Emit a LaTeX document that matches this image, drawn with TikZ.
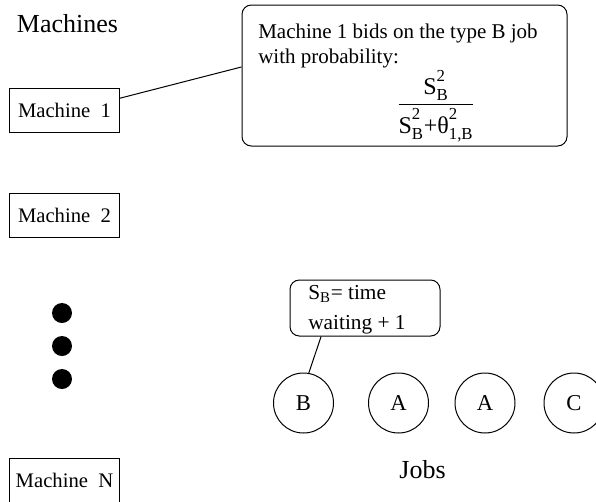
\documentclass[tikz,border=0pt]{standalone}
\usepackage{amsmath}
\usepackage{fontspec}
\setmainfont{Liberation Serif}
\usepackage{tikz}

\newcommand{\tx}[1]{\text{#1}}
\newcommand{\sq}{\tx{\raisebox{3pt}{2}}}

\tikzset{
  machine/.style={draw, line width=0.75, minimum width=82pt, minimum height=33pt, inner sep=0pt, font=\fontsize{15.5}{18}\selectfont},
  callout/.style={draw, line width=0.75, rounded corners=7pt, inner sep=0pt},
  job/.style={draw, circle, line width=0.75, minimum size=45pt, inner sep=0pt, font=\fontsize{17}{20}\selectfont},
  dot/.style={fill, circle, minimum size=15pt, inner sep=0pt},
  heading/.style={inner sep=0pt, font=\fontsize{19.5}{22}\selectfont},
  boxtext/.style={inner sep=0pt, align=left, font=\fontsize{15.75}{18.75}\selectfont}
}

\begin{document}
\begin{tikzpicture}[x=0.75pt,y=0.75pt,yscale=-1,xscale=1]
        \useasboundingbox (0,0) rectangle (596,501);

        % Text Node
        \node[heading, anchor=base] (machines) at (67.5,32) {Machines};
        \node[heading, anchor=base] (jobs) at (422.5,478) {Jobs};

        % Machines
        \node[machine] (m1) at (64.5,110) {Machine\ \ 1};
        \node[machine] (m2) at (64.5,215) {Machine\ \ 2};
        \node[machine] (mN) at (64.5,480) {Machine\ \ N};

        % dots
        \foreach \y [count=\i] in {313,346,379}
          \node[dot] (d\i) at (62,\y) {};

        % bid callout
        \node[callout, minimum width=243.75pt, minimum height=105.75pt] (bid) at (404.5,75.5) {};
        \node[boxtext, anchor=north west] (bidtext) at (258,24) {Machine 1 bids on the type B job\\with probability:};
        \node[inner sep=0pt, font=\fontsize{18}{20}\selectfont] (prob) at (436,106)
          {$\dfrac{\tx{S}_{\tx{B}}^{\sq}}{\tx{S}_{\tx{B}}^{\sq}\tx{+θ}_{\tx{1,B}}^{\sq}}$};
        \draw[line width=0.75] (m1.12) -- (bid.177);

        % Jobs
        \node[job] (jb) at (303.5,403) {B};
        \node[job] (ja1) at (398.5,403) {A};
        \node[job] (ja2) at (485,403) {A};
        \node[job] (jc) at (574,403) {C};

        % wait callout
        \node[callout, minimum width=112.5pt, minimum height=42pt] (wait) at (365,308) {};
        \node[boxtext, anchor=north west, font=\fontsize{16}{22.5}\selectfont] (waittext) at (308,285) {S\textsubscript{B}= time\\waiting + 1};
        \draw[line width=0.75] (wait.213) -- (jb.80);

\end{tikzpicture}
\end{document}
